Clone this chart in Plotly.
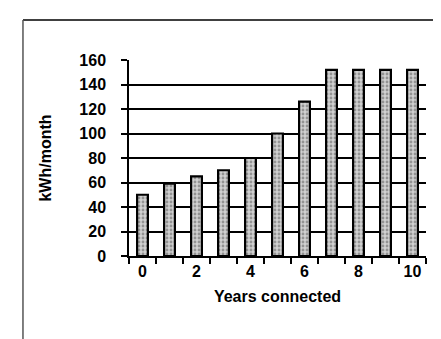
import plotly.graph_objects as go

years = [0, 1, 2, 3, 4, 5, 6, 7, 8, 9, 10]
kwh = [50, 59, 65, 70, 80, 100, 126, 152, 152, 152, 152]
x_ticks = [0, 2, 4, 6, 8, 10]
y_ticks = [0, 20, 40, 60, 80, 100, 120, 140, 160]

FONT = "Liberation Sans, Arial, sans-serif"

fig = go.Figure(go.Bar(
    x=years, y=kwh,
    width=0.4,
    marker=dict(
        color="#cfcfcf",
        line=dict(color="black", width=2.2),
        pattern=dict(shape=".", fgcolor="#555555", bgcolor="#d0d0d0", size=4, solidity=0.4),
    ),
))

fig.update_layout(
    width=441, height=339,
    margin=dict(l=121, r=23, t=52, b=91),
    plot_bgcolor="white", paper_bgcolor="white",
    showlegend=False,
    font=dict(family=FONT, size=16, color="black"),
    xaxis=dict(
        range=[-0.5, 10.5],
        tickvals=x_ticks,
        ticktext=[f"<b>{v}</b>" for v in x_ticks],
        ticks="", showgrid=False, zeroline=False,
        showline=True, linecolor="black", linewidth=1.5,
        minor=dict(tick0=-0.5, dtick=1, ticks="outside", ticklen=6, tickcolor="black", tickwidth=1.5, showgrid=False),
        tickfont=dict(size=16),
        ticklabelstandoff=0,
        title=dict(text="<b>Years connected</b>", font=dict(size=16), standoff=12),
    ),
    yaxis=dict(
        range=[0, 160],
        tickvals=y_ticks,
        ticktext=[f"<b>{v}</b>" for v in y_ticks],
        ticks="outside", ticklen=6, tickcolor="black", tickwidth=1.5,
        showgrid=True, gridcolor="black", gridwidth=1.5,
        zeroline=False,
        showline=True, linecolor="black", linewidth=1.5,
        tickfont=dict(size=16),
        ticklabelstandoff=12,
        title=dict(text="<b>kWh/month</b>", font=dict(size=16), standoff=24),
    ),
    shapes=[
        dict(type="line", xref="paper", yref="paper", x0=-0.357, x1=1.08, y0=1.204, y1=1.204,
             line=dict(color="black", width=1.5)),
        dict(type="line", xref="paper", yref="paper", x0=-0.357, x1=-0.357, y0=1.204, y1=-0.47,
             line=dict(color="#555555", width=1.5)),
    ],
)

fig.write_html("out.html")
